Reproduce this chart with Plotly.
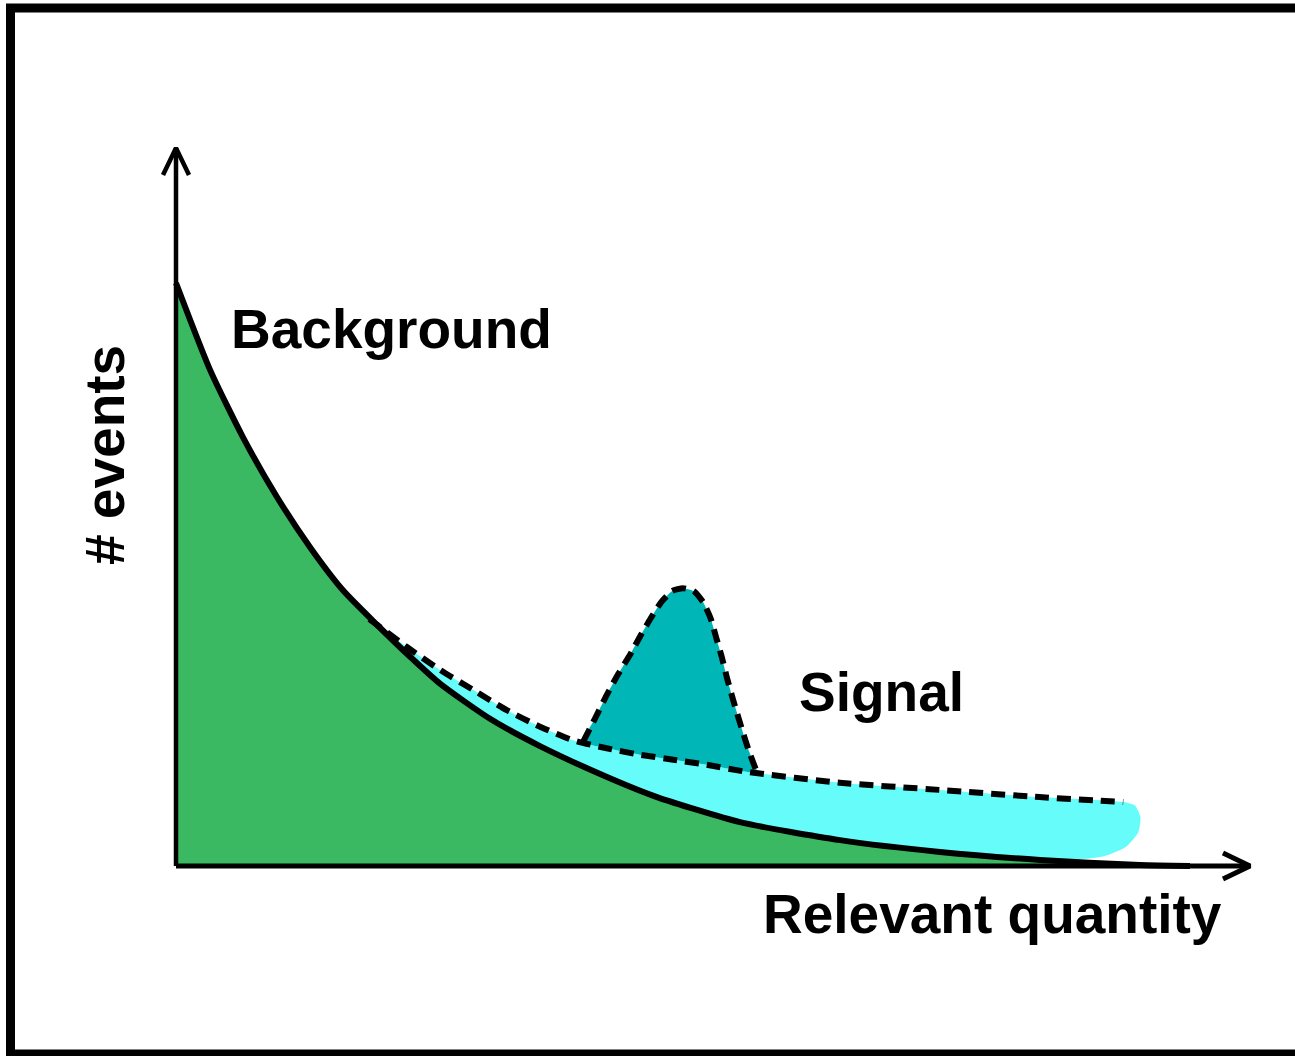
import plotly.graph_objects as go

# ---------------- data (schematic units: both axes run 0..10) ----------------
# background distribution (falling curve)
bg_x = [0, 0.317, 0.624, 0.940, 1.248, 1.555, 1.871, 2.19, 2.458, 2.924, 3.389,
        4.013, 4.479, 5.251, 6.182, 7.114, 8.045, 8.976, 9.441]
bg_y = [8.12, 6.91, 5.97, 5.14, 4.44, 3.84, 3.36, 2.90, 2.54, 2.05, 1.67,
        1.24, 0.96, 0.61, 0.36, 0.195, 0.084, 0.014, 0.0]

# background + signal (dashed line)
tot_x = [1.80, 2.15, 2.46, 2.77, 3.08, 3.39, 3.70, 4.01, 4.32, 4.63, 4.94,
         5.32, 6.18, 7.11, 8.04, 8.82]
tot_y = [3.44, 3.05, 2.73, 2.45, 2.17, 1.94, 1.75, 1.64, 1.55, 1.48, 1.41,
         1.31, 1.16, 1.06, 0.96, 0.89]

# rounded right end of the uncertainty band
cap_x = [8.93, 8.98, 8.96, 8.84, 8.65, 8.46]
cap_y = [0.84, 0.68, 0.47, 0.26, 0.14, 0.10]

# signal peak outline
sig_x = [3.79, 3.90, 4.01, 4.12, 4.23, 4.33, 4.42, 4.52, 4.62, 4.72, 4.82, 4.91,
         4.98, 5.03, 5.08, 5.13, 5.19, 5.26, 5.33, 5.41]
sig_y = [1.73, 2.05, 2.38, 2.68, 2.95, 3.22, 3.45, 3.68, 3.83, 3.87, 3.83, 3.67,
         3.44, 3.18, 2.92, 2.62, 2.30, 1.95, 1.62, 1.30]

AXIS_MAX = 10.0
labels = {"bg": "Background", "sig": "Signal", "x": "Relevant quantity", "y": "# events"}

# ---------------- geometry of the page ----------------
W, H = 1295, 1056
X0_PX, Y0_PX = 176, 866          # pixel position of the origin
SX, SY = 107.4, 71.8             # pixels per unit
xr = [-X0_PX / SX, (W - X0_PX) / SX]
yr = [-(H - Y0_PX) / SY, Y0_PX / SY]

def dx(px):
    return (px - X0_PX) / SX

def dy(py):
    return (Y0_PX - py) / SY

GREEN = "#3BB862"
CYAN = "#66FCFA"
TEAL = "#00B6B6"
DASH = "14px,8px"

fig = go.Figure()

# green background fill
fig.add_trace(go.Scatter(
    x=bg_x, y=bg_y, mode="lines",
    line=dict(width=0, shape="spline", smoothing=0.6),
    fill="tozeroy", fillcolor=GREEN, hoverinfo="skip"))

# cyan band between background and total
lo = [(x, y) for x, y in zip(bg_x, bg_y) if tot_x[0] < x < cap_x[-1]]
band_x = tot_x + cap_x + [p[0] for p in reversed(lo)] + [tot_x[0]]
band_y = tot_y + cap_y + [p[1] for p in reversed(lo)] + [tot_y[0]]
fig.add_trace(go.Scatter(
    x=band_x, y=band_y, mode="lines",
    line=dict(width=0, shape="spline", smoothing=0.6),
    fill="toself", fillcolor=CYAN, hoverinfo="skip"))

# teal signal fill
base = [(x, y) for x, y in zip(tot_x, tot_y) if sig_x[0] < x < sig_x[-1]]
peak_x = sig_x + [p[0] for p in reversed(base)] + [sig_x[0]]
peak_y = sig_y + [p[1] for p in reversed(base)] + [sig_y[0]]
fig.add_trace(go.Scatter(
    x=peak_x, y=peak_y, mode="lines",
    line=dict(width=0, shape="spline", smoothing=0.5),
    fill="toself", fillcolor=TEAL, hoverinfo="skip"))

# background curve
fig.add_trace(go.Scatter(
    x=bg_x, y=bg_y, mode="lines",
    line=dict(color="black", width=6, shape="spline", smoothing=0.6),
    hoverinfo="skip"))

# dashed total
fig.add_trace(go.Scatter(
    x=tot_x, y=tot_y, mode="lines",
    line=dict(color="black", width=6, dash=DASH, shape="spline", smoothing=0.6),
    hoverinfo="skip"))

# dashed signal outline
fig.add_trace(go.Scatter(
    x=sig_x, y=sig_y, mode="lines",
    line=dict(color="black", width=6, dash=DASH, shape="spline", smoothing=0.5),
    hoverinfo="skip"))

# axes with open arrow heads
ax_w = 13 / SX
ax_h = 27 / SY
ay_w = 27 / SX
ay_h = 13 / SY
fig.add_trace(go.Scatter(
    x=[0, 0, None, -ax_w, 0, ax_w],
    y=[0, AXIS_MAX, None, AXIS_MAX - ax_h, AXIS_MAX, AXIS_MAX - ax_h],
    mode="lines", line=dict(color="black", width=4.5), hoverinfo="skip"))
fig.add_trace(go.Scatter(
    x=[0, AXIS_MAX, None, AXIS_MAX - ay_w, AXIS_MAX, AXIS_MAX - ay_w],
    y=[0, 0, None, ay_h, 0, -ay_h],
    mode="lines", line=dict(color="black", width=5), hoverinfo="skip"))

FONT = dict(family="Liberation Sans, Arial, sans-serif", size=55, color="black")
ann = [
    dict(x=dx(229), y=dy(329), text="<b>%s</b>" % labels["bg"], xanchor="left", yanchor="middle"),
    dict(x=dx(797), y=dy(692), text="<b>%s</b>" % labels["sig"], xanchor="left", yanchor="middle"),
    dict(x=dx(761), y=dy(914), text="<b>%s</b>" % labels["x"], xanchor="left", yanchor="middle"),
    dict(x=dx(105), y=dy(455), text="<b>%s</b>" % labels["y"], textangle=-90,
         xanchor="center", yanchor="middle"),
]
for a in ann:
    a.update(xref="x", yref="y", showarrow=False, font=FONT)

fig.update_layout(
    width=W, height=H,
    margin=dict(l=0, r=0, t=0, b=0),
    paper_bgcolor="white", plot_bgcolor="white",
    showlegend=False,
    xaxis=dict(range=xr, visible=False, fixedrange=True),
    yaxis=dict(range=yr, visible=False, fixedrange=True),
    annotations=ann,
    shapes=[dict(type="rect", xref="paper", yref="paper",
                 x0=10.5 / W, x1=1.02, y0=1 - 1054 / H, y1=1 - 8 / H,
                 line=dict(color="black", width=9), fillcolor="rgba(0,0,0,0)")],
)

fig.write_html("out.html", config={"displayModeBar": False},
               post_script="document.body.style.margin='0px';document.body.style.overflow='hidden';")
